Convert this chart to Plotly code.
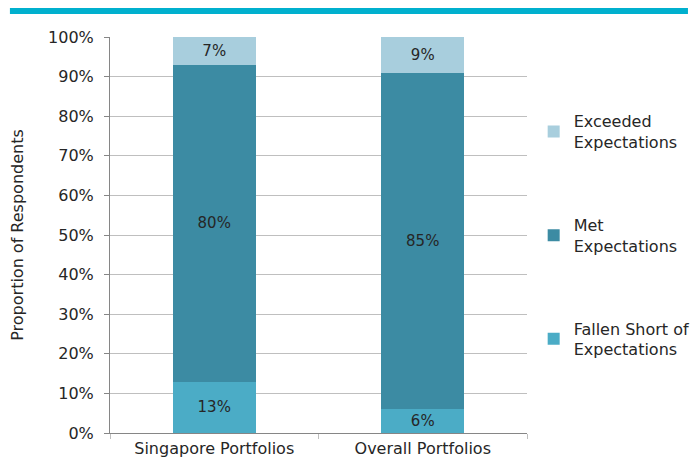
import plotly.graph_objects as go

categories = ["Singapore Portfolios", "Overall Portfolios"]
fallen_short = [13, 6]
met = [80, 85]
exceeded = [7, 9]
y_ticks = list(range(0, 101, 10))

font_family = "'DejaVu Sans', sans-serif"
text_color = "#262626"

fig = go.Figure()

# (name, values, colour, legend rank) - legend lists Exceeded first
series = [
    ("Fallen Short of<br>Expectations", fallen_short, "#4BACC6", 3),
    ("Met<br>Expectations", met, "#3C8BA3", 2),
    ("Exceeded<br>Expectations", exceeded, "#A8CEDD", 1),
]
for name, vals, col, rank in series:
    fig.add_trace(go.Bar(
        x=categories, y=vals, name=name,
        marker=dict(color=col, line=dict(width=0)),
        text=[f"{v}%" for v in vals],
        textposition="inside", insidetextanchor="middle",
        textfont=dict(size=15, color=text_color, family=font_family),
        legendgroup=name, legendrank=rank,
    ))

# the page body has an 8px margin, so the figure is a bit smaller than the window
fig.update_layout(
    barmode="stack",
    bargap=0.6,
    width=684, height=450,
    margin=dict(l=102, r=165, t=29, b=25, autoexpand=False),
    plot_bgcolor="white", paper_bgcolor="white",
    font=dict(family=font_family, size=16, color=text_color),
    legend=dict(
        x=1.016, y=0.83, xanchor="left", yanchor="top",
        traceorder="grouped", tracegroupgap=59,
        font=dict(size=16, color=text_color),
        itemwidth=30,
    ),
    uniformtext=dict(minsize=15, mode="show"),
    shapes=[dict(type="rect", xref="paper", yref="paper",
                 x0=-0.24, x1=1.386, y0=1.058, y1=1.073,
                 fillcolor="#00B0CE", line=dict(width=0), layer="above")],
)

fig.update_yaxes(
    range=[0, 100], tickvals=y_ticks, ticktext=[f"{t}%" for t in y_ticks],
    showgrid=True, gridcolor="#BFBFBF", gridwidth=1,
    showline=True, linecolor="#868686", linewidth=1,
    ticks="outside", ticklen=5, tickcolor="#868686", ticklabelstandoff=7,
    title=dict(text="Proportion of Respondents", font=dict(size=16), standoff=22),
    zeroline=False, automargin=False,
)
fig.update_xaxes(
    showline=True, linecolor="#868686", linewidth=1,
    ticks="outside", ticklen=5, tickcolor="#BFBFBF", tickson="boundaries",
    tickfont=dict(size=16), ticklabelstandoff=1, automargin=False,
)

fig.write_html("out.html")
